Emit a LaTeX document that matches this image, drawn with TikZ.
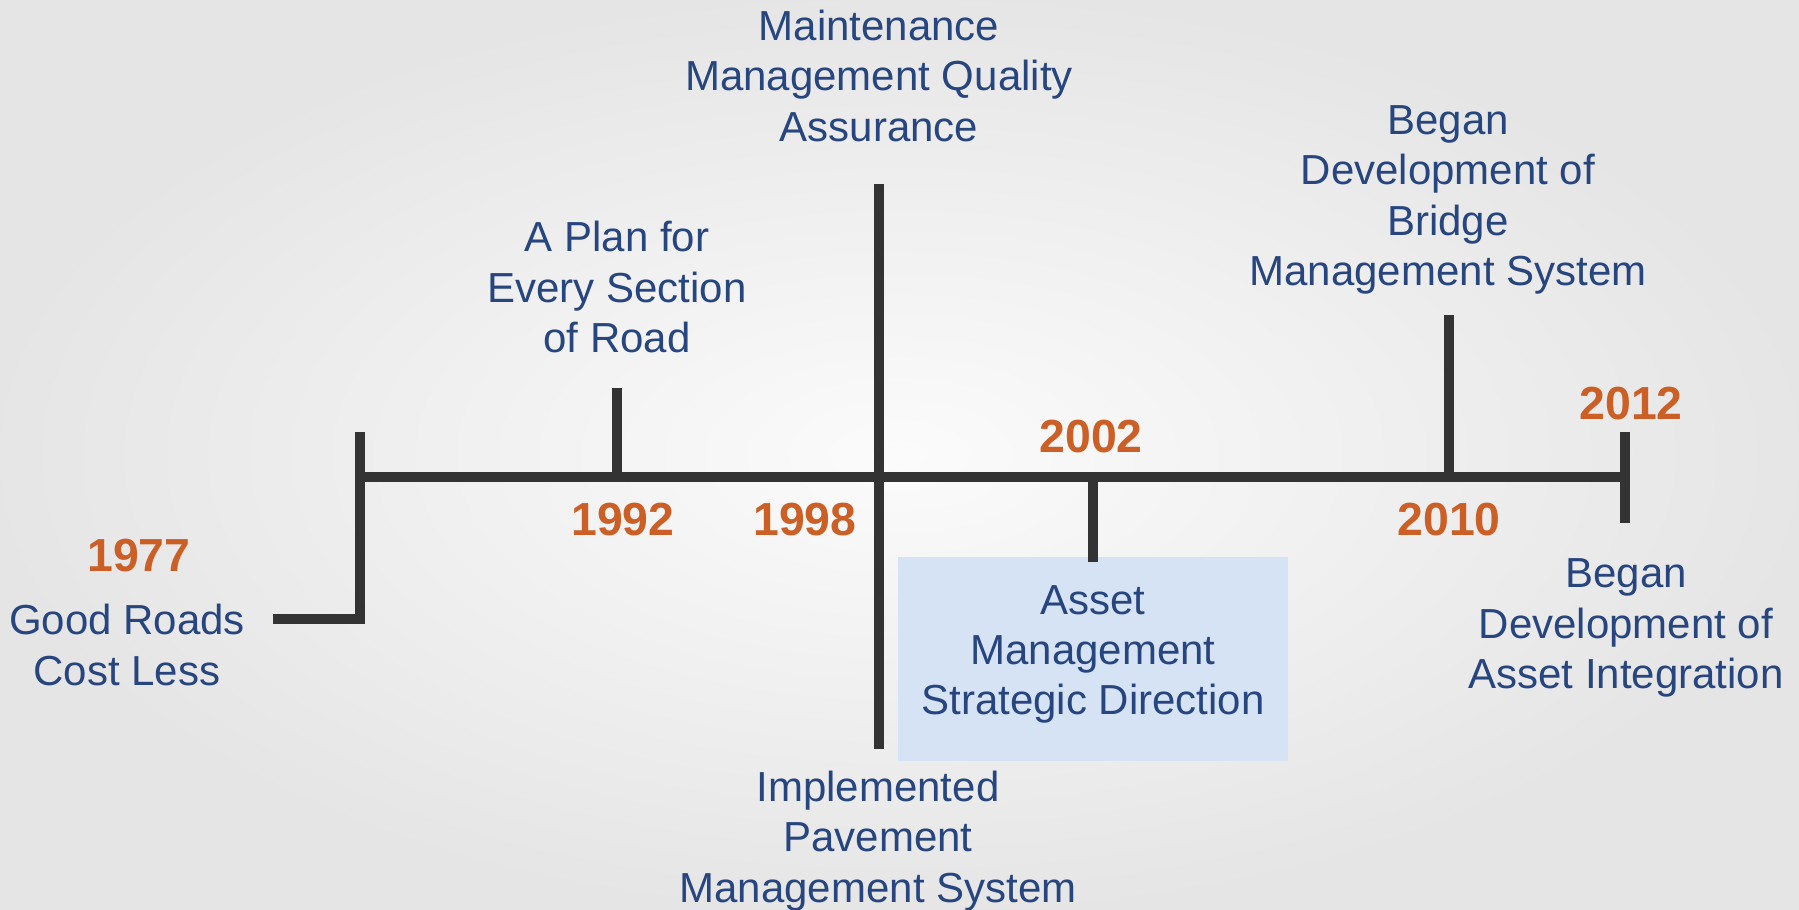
\documentclass[tikz,border=0pt]{standalone}
\usepackage{fontspec}
\setmainfont{Liberation Sans}
\usetikzlibrary{positioning,calc}
\definecolor{tlblue}{HTML}{27457F}
\definecolor{tlorange}{HTML}{CC5F26}
\definecolor{tlline}{HTML}{333333}
\definecolor{tlbox}{HTML}{D6E3F4}

\begin{document}
\begin{tikzpicture}[
      lbl/.style={text=tlblue, align=center, inner sep=0pt,
                  font=\fontsize{11.95}{14.3}\selectfont},
      yr/.style={text=tlorange, inner sep=0pt, font=\fontsize{13.2}{15}\selectfont\bfseries},
      bar/.style={draw=tlline, line width=2.6pt}]
    \shade[inner color=gray!3, outer color=gray!20] (0,0) rectangle (17.99,-9.10);
    \useasboundingbox (0,0) rectangle (17.99,-9.10);
    % axis points
    \coordinate (a77) at (3.60,-4.77);
    \coordinate (a92) at (6.17,-4.77);
    \coordinate (a98) at (8.79,-4.77);
    \coordinate (a02) at (10.93,-4.77);
    \coordinate (a10) at (14.49,-4.77);
    \coordinate (a12) at (16.25,-4.77);
    % tick ends
    \coordinate (up77) at (3.60,-4.32);
    \coordinate (dn77) at (3.60,-6.19);
    \coordinate (foot) at (2.73,-6.19);
    \coordinate (up92) at (6.17,-3.88);
    \coordinate (up98) at (8.79,-1.84);
    \coordinate (dn98) at (8.79,-7.49);
    \coordinate (up10) at (14.49,-3.15);
    \coordinate (up12) at (16.25,-4.32);
    \coordinate (dn12) at (16.25,-5.23);

    \node[lbl, fill=tlbox, minimum width=3.90cm, minimum height=2.04cm, text depth=0.18cm] (asset) at (10.93,-6.59)
      {Asset\\Management\\Strategic Direction};

    \node[lbl] (mqa) at (8.79,-0.76) {Maintenance\\Management Quality\\Assurance};
    \node[lbl] (plan) at (6.17,-2.87) {A Plan for\\Every Section\\of Road};
    \node[lbl] (bridge) at (14.48,-2.00) {Began\\Development of\\Bridge\\Management System};
    \node[lbl] (good) at (1.27,-6.45) {Good Roads\\Cost Less};
    \node[lbl] (impl) at (8.78,-8.41) {Implemented\\Pavement\\Management System};
    \node[lbl] (integ) at (16.26,-6.28) {Began\\Development of\\Asset Integration};

    \node[yr] (y77) at (1.39,-5.56) {1977};
    \node[yr] (y92) at (6.23,-5.20) {1992};
    \node[yr] (y98) at (8.05,-5.20) {1998};
    \node[yr] (y02) at (10.91,-4.37) {2002};
    \node[yr] (y10) at (14.49,-5.20) {2010};
    \node[yr] (y12) at (16.31,-4.04) {2012};

    \draw[bar] (a77) -- (a12);
    \draw[bar] (up77) -- (dn77);
    \draw[bar] (foot) -- ([xshift=1.3pt]dn77);
    \draw[bar] (a92) -- (up92);
    \draw[bar] (up98) -- (dn98);
    \draw[bar] (a02) -- ([yshift=-0.06cm]asset.north);
    \draw[bar] (a10) -- (up10);
    \draw[bar] (up12) -- (dn12);
  \end{tikzpicture}
\end{document}
